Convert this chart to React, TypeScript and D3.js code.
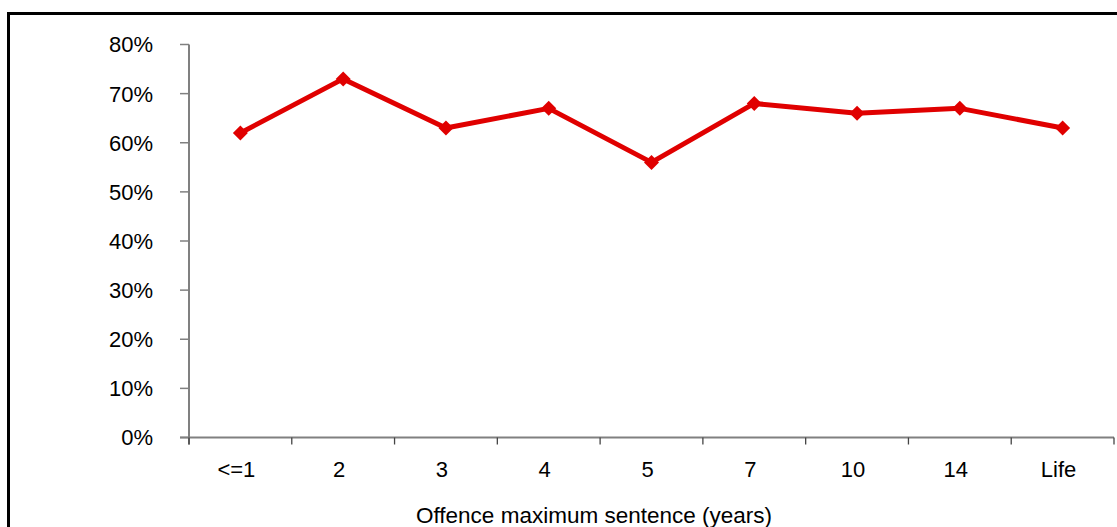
import React from "react";
import * as d3 from "d3";

const categories = ["<=1", "2", "3", "4", "5", "7", "10", "14", "Life"];
const values = [0.62, 0.73, 0.63, 0.67, 0.56, 0.68, 0.66, 0.67, 0.63];
const yTicks = [0, 0.1, 0.2, 0.3, 0.4, 0.5, 0.6, 0.7, 0.8];
const xTitle = "Offence maximum sentence (years)";

const W = 1117;
const H = 527;
const FONT = "'Liberation Sans', Arial, Helvetica, sans-serif";

export default function App() {
  const left = 189;
  const right = 1114;
  const top = 44.5;
  const bottom = 437.5;

  const x = d3.scaleBand<string>().domain(categories).range([left, right]).padding(0);
  const y = d3.scaleLinear().domain([0, 0.8]).range([bottom, top]);

  const line = d3
    .line<number>()
    .x((_, i) => (x(categories[i]) as number) + x.bandwidth() / 2)
    .y((d) => y(d));

  const boundaries = [...categories.map((c) => x(c) as number), right];
  const red = "#e00000";
  const axisColor = "#808080";

  return (
    <svg
      width={W}
      height={H}
      style={{ position: "absolute", left: 0, top: 0, background: "#fff" }}
    >
      <rect x={0} y={0} width={W} height={H} fill="#fff" />
      <rect
        x={8.5}
        y={13.5}
        width={W + 20}
        height={H + 20}
        fill="none"
        stroke="#000"
        strokeWidth={3}
      />
      {/* y axis */}
      <line x1={left} x2={left} y1={top} y2={bottom + 7} stroke={axisColor} strokeWidth={2} />
      {yTicks.map((t) => (
        <g key={t}>
          <line x1={left - 9} x2={left} y1={y(t)} y2={y(t)} stroke={axisColor} strokeWidth={1.5} />
          <text
            x={153}
            y={y(t)}
            dy="0.36em"
            textAnchor="end"
            fontFamily={FONT}
            fontSize={22}
            fill="#000"
          >
            {d3.format(".0%")(t)}
          </text>
        </g>
      ))}
      {/* x axis */}
      <line x1={left - 9} x2={right} y1={bottom} y2={bottom} stroke={axisColor} strokeWidth={2} />
      {boundaries.map((b, i) => (
        <line key={i} x1={b} x2={b} y1={bottom} y2={bottom + 7} stroke="#444" strokeWidth={1.3} />
      ))}
      {categories.map((c) => (
        <text
          key={c}
          x={(x(c) as number) + x.bandwidth() / 2 - 4}
          y={477}
          textAnchor="middle"
          fontFamily={FONT}
          fontSize={22}
          fill="#000"
        >
          {c}
        </text>
      ))}
      <text
        x={416}
        y={523}
        textAnchor="start"
        fontFamily={FONT}
        fontSize={22.5}
        fill="#000"
      >
        {xTitle}
      </text>
      {/* series */}
      <path d={line(values) || ""} fill="none" stroke={red} strokeWidth={5} strokeLinejoin="round" />
      {values.map((v, i) => {
        const cx = (x(categories[i]) as number) + x.bandwidth() / 2;
        const cy = y(v);
        const s = 7.5;
        return (
          <path
            key={i}
            d={`M${cx},${cy - s}L${cx + s},${cy}L${cx},${cy + s}L${cx - s},${cy}Z`}
            fill={red}
          />
        );
      })}
    </svg>
  );
}
